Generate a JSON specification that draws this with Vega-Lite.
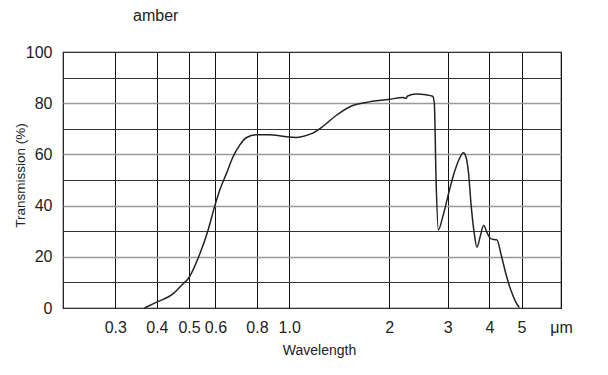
{
  "$schema": "https://vega.github.io/schema/vega-lite/v6.json",
  "width": 498,
  "height": 256,
  "autosize": {"type": "none"},
  "padding": {"left": 63, "top": 52, "right": 47, "bottom": 67},
  "background": "white",
  "title": {"text": "amber", "anchor": "start", "frame": "group", "dx": 70, "offset": 20, "fontSize": 16, "font": "Liberation Sans", "fontWeight": "normal", "color": "#222"},
  "config": {"view": {"stroke": "#111", "strokeWidth": 1.2}},
  "data": {"values": [
    {"wavelength": 0.367, "transmission": 0},
    {"wavelength": 0.398, "transmission": 2.2},
    {"wavelength": 0.447, "transmission": 5.5},
    {"wavelength": 0.479, "transmission": 9.4},
    {"wavelength": 0.496, "transmission": 11.3},
    {"wavelength": 0.538, "transmission": 21},
    {"wavelength": 0.569, "transmission": 30},
    {"wavelength": 0.596, "transmission": 39.4},
    {"wavelength": 0.618, "transmission": 46},
    {"wavelength": 0.647, "transmission": 52.4},
    {"wavelength": 0.677, "transmission": 58.9},
    {"wavelength": 0.709, "transmission": 63.5},
    {"wavelength": 0.743, "transmission": 66.5},
    {"wavelength": 0.796, "transmission": 67.7},
    {"wavelength": 0.873, "transmission": 67.7},
    {"wavelength": 0.957, "transmission": 67.1},
    {"wavelength": 1.05, "transmission": 66.6},
    {"wavelength": 1.099, "transmission": 67},
    {"wavelength": 1.177, "transmission": 68.3},
    {"wavelength": 1.262, "transmission": 70.9},
    {"wavelength": 1.384, "transmission": 75.2},
    {"wavelength": 1.553, "transmission": 79.1},
    {"wavelength": 1.704, "transmission": 80.3},
    {"wavelength": 2.001, "transmission": 81.5},
    {"wavelength": 2.194, "transmission": 82.2},
    {"wavelength": 2.247, "transmission": 81.9},
    {"wavelength": 2.272, "transmission": 82.8},
    {"wavelength": 2.407, "transmission": 83.6},
    {"wavelength": 2.58, "transmission": 83.3},
    {"wavelength": 2.701, "transmission": 82.7},
    {"wavelength": 2.733, "transmission": 79.8},
    {"wavelength": 2.766, "transmission": 49.8},
    {"wavelength": 2.81, "transmission": 30.5},
    {"wavelength": 2.894, "transmission": 35.4},
    {"wavelength": 3.032, "transmission": 45.9},
    {"wavelength": 3.139, "transmission": 53},
    {"wavelength": 3.25, "transmission": 58.3},
    {"wavelength": 3.341, "transmission": 60.6},
    {"wavelength": 3.404, "transmission": 58.9},
    {"wavelength": 3.465, "transmission": 52.4},
    {"wavelength": 3.523, "transmission": 40.7},
    {"wavelength": 3.604, "transmission": 29},
    {"wavelength": 3.672, "transmission": 23.7},
    {"wavelength": 3.749, "transmission": 27.6},
    {"wavelength": 3.843, "transmission": 32.2},
    {"wavelength": 3.952, "transmission": 29},
    {"wavelength": 4.046, "transmission": 27},
    {"wavelength": 4.217, "transmission": 26.6},
    {"wavelength": 4.335, "transmission": 21.1},
    {"wavelength": 4.487, "transmission": 13.3},
    {"wavelength": 4.647, "transmission": 6.8},
    {"wavelength": 4.81, "transmission": 2.2},
    {"wavelength": 4.921, "transmission": 0.2}
  ]},
  "mark": {"type": "line", "color": "#222", "strokeWidth": 1.5, "interpolate": "monotone"},
  "encoding": {
    "x": {
      "field": "wavelength", "type": "quantitative",
      "scale": {"type": "log", "domain": [0.2088, 6.57], "nice": false},
      "axis": {
        "values": [0.3, 0.4, 0.5, 0.6, 0.8, 1, 2, 3, 4, 5, 6.57],
        "labelExpr": "datum.value > 6 ? 'μm' : (datum.value == 1 ? '1.0' : format(datum.value, '.1~f'))",
        "ticks": false, "domain": false,
        "grid": true, "gridColor": "#111", "gridWidth": 1, "gridOpacity": 1,
        "labelFont": "Liberation Sans", "labelFontSize": 16, "labelColor": "#222",
        "labelPadding": 11, "labelFlush": false, "labelOverlap": false, "labelBound": false,
        "title": "Wavelength",
        "titleFont": "Liberation Sans", "titleFontSize": 14, "titleFontWeight": "normal", "titleColor": "#222",
        "titleX": 256, "titleY": 46, "titleBaseline": "alphabetic", "titleAlign": "center"
      }
    },
    "y": {
      "field": "transmission", "type": "quantitative",
      "scale": {"domain": [0, 100], "nice": false},
      "axis": {
        "values": [0, 10, 20, 30, 40, 50, 60, 70, 80, 90, 100],
        "labelExpr": "datum.value % 20 == 0 ? datum.label : ''",
        "ticks": false, "domain": false,
        "grid": true, "gridOpacity": 1,
        "gridColor": {"condition": {"test": "datum.value % 20 == 0 && datum.value > 0 && datum.value < 100", "value": "#999"}, "value": "#333"},
        "gridWidth": {"condition": {"test": "datum.value % 20 == 0 && datum.value > 0 && datum.value < 100", "value": 1.6}, "value": 1},
        "labelFont": "Liberation Sans", "labelFontSize": 16, "labelColor": "#222",
        "labelPadding": 11,
        "title": "Transmission (%)",
        "titleFont": "Liberation Sans", "titleFontSize": 13.5, "titleFontWeight": "normal", "titleColor": "#222",
        "titleX": -43, "titleY": 123, "titleBaseline": "middle", "titleAlign": "center", "titleAngle": 270
      }
    }
  }
}
